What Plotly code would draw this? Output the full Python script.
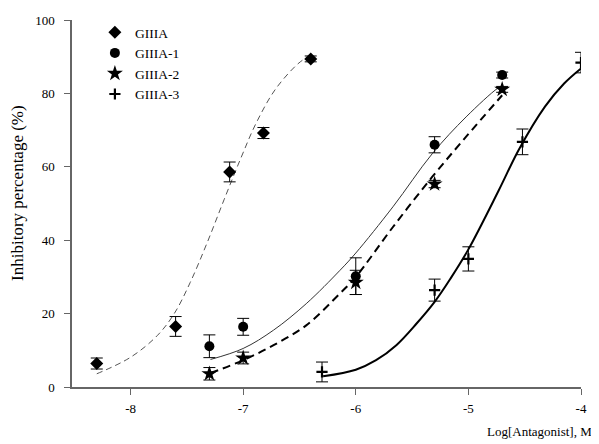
import plotly.graph_objects as go

# ---- data ----
series_names = ["GIIIA", "GIIIA-1", "GIIIA-2", "GIIIA-3"]

x_giiia = [-8.3, -7.6, -7.12, -6.82, -6.4]
y_giiia = [6.4, 16.5, 58.6, 69.2, 89.4]
e_giiia = [1.5, 2.7, 2.7, 1.5, 0.8]

x_g1 = [-7.3, -7.0, -6.0, -5.3, -4.7]
y_g1 = [11.1, 16.4, 30.2, 66.0, 85.0]
e_g1 = [3.1, 2.3, 5.0, 2.2, 0.8]

x_g2 = [-7.3, -7.0, -6.0, -5.3, -4.7]
y_g2 = [3.6, 7.9, 28.5, 55.3, 81.1]
e_g2 = [1.7, 1.6, 3.3, 1.0, 0.8]

x_g3 = [-6.3, -5.3, -5.0, -4.52, -4.0]
y_g3 = [4.1, 26.4, 34.9, 66.8, 88.4]
e_g3 = [2.7, 3.0, 3.3, 3.5, 2.8]

# fitted curves
cx_giiia = [-8.3, -8.0, -7.76, -7.61, -7.47, -7.32, -7.17, -7.02, -6.88, -6.7, -6.47, -6.4]
cy_giiia = [3.6, 8.1, 14.1, 20.1, 28.5, 39.3, 51.0, 62.4, 72.2, 81.7, 89.1, 89.8]

cx_g1 = [-7.29, -7.0, -6.73, -6.44, -6.14, -6.0, -5.67, -5.32, -5.02, -4.74, -4.7]
cy_g1 = [7.5, 10.5, 15.5, 22.7, 31.8, 36.5, 49.1, 63.6, 73.6, 81.4, 82.0]

cx_g2 = [-7.29, -7.0, -6.73, -6.44, -6.14, -6.0, -5.67, -5.32, -5.02, -4.7]
cy_g2 = [3.8, 7.3, 11.4, 16.8, 25.5, 30.0, 43.6, 57.3, 68.2, 79.5]

cx_g3 = [-6.29, -6.0, -5.82, -5.64, -5.46, -5.3, -5.16, -5.0, -4.73, -4.55, -4.32, -4.15, -4.0]
cy_g3 = [2.9, 4.7, 7.3, 11.4, 17.3, 23.2, 29.5, 37.5, 53.6, 64.8, 76.4, 82.7, 86.8]

x_ticks = [-8, -7, -6, -5, -4]
y_ticks = [0, 20, 40, 60, 80, 100]

FONT = "Liberation Serif, Times New Roman, serif"
AXIS = "#666"

fig = go.Figure()

curves = [
    (cx_giiia, cy_giiia, dict(color="#555", width=1, dash="6px,4px")),
    (cx_g1, cy_g1, dict(color="#333", width=1)),
    (cx_g2, cy_g2, dict(color="black", width=2, dash="8px,5px")),
    (cx_g3, cy_g3, dict(color="black", width=2)),
]
for cx, cy, ln in curves:
    fig.add_trace(go.Scatter(x=cx, y=cy, mode="lines",
                             line=dict(shape="spline", smoothing=1.0, **ln),
                             showlegend=False, hoverinfo="skip"))

pts = [
    (x_giiia, y_giiia, e_giiia, "diamond", 10),
    (x_g1, y_g1, e_g1, "circle", 10),
    (x_g2, y_g2, e_g2, "star", 12),
    (x_g3, y_g3, e_g3, "cross-thin", 8),
]
for name, (px, py, pe, sym, sz) in zip(series_names, pts):
    mk = dict(symbol=sym, size=sz, color="black")
    if sym == "cross-thin":
        mk["line"] = dict(width=2.2, color="black")
    fig.add_trace(go.Scatter(
        x=px, y=py, mode="markers", name=name, marker=mk,
        error_y=dict(type="data", array=pe, color="black", thickness=1, width=6),
    ))

# page body adds an 8px offset, so margins are shifted to compensate
fig.update_layout(
    width=599, height=444,
    margin=dict(l=64, r=26, t=12, b=65, autoexpand=False),
    paper_bgcolor="white", plot_bgcolor="white",
    font=dict(family=FONT, size=13, color="black"),
    legend=dict(x=0.045, y=1.008, xanchor="left", yanchor="top",
                bgcolor="rgba(0,0,0,0)", font=dict(family=FONT, size=13.5),
                itemsizing="trace"),
    xaxis=dict(range=[-8.52, -4], tickvals=x_ticks, ticktext=[str(v) for v in x_ticks],
               showgrid=False, zeroline=False, showline=True, linecolor=AXIS, linewidth=1.5,
               ticks="outside", ticklen=6, tickcolor=AXIS, tickfont=dict(size=13),
               ticklabelstandoff=3),
    yaxis=dict(range=[0, 100], tickvals=y_ticks, showgrid=False, zeroline=False,
               showline=True, linecolor=AXIS, linewidth=1.5,
               ticks="outside", ticklen=6, tickcolor=AXIS, tickfont=dict(size=13),
               ticklabelstandoff=7),
    annotations=[
        dict(text="Log[Antagonist], M", xref="paper", yref="paper",
             x=1.025, y=-0.095, xanchor="right", yanchor="top",
             showarrow=False, font=dict(size=13, family=FONT)),
        dict(text="Inhibitory percentage (%)", xref="paper", yref="paper",
             x=-0.106, y=0.529, xanchor="center", yanchor="middle", textangle=-90,
             showarrow=False, font=dict(size=17, family=FONT)),
    ],
)

fig.write_html("out.html")
